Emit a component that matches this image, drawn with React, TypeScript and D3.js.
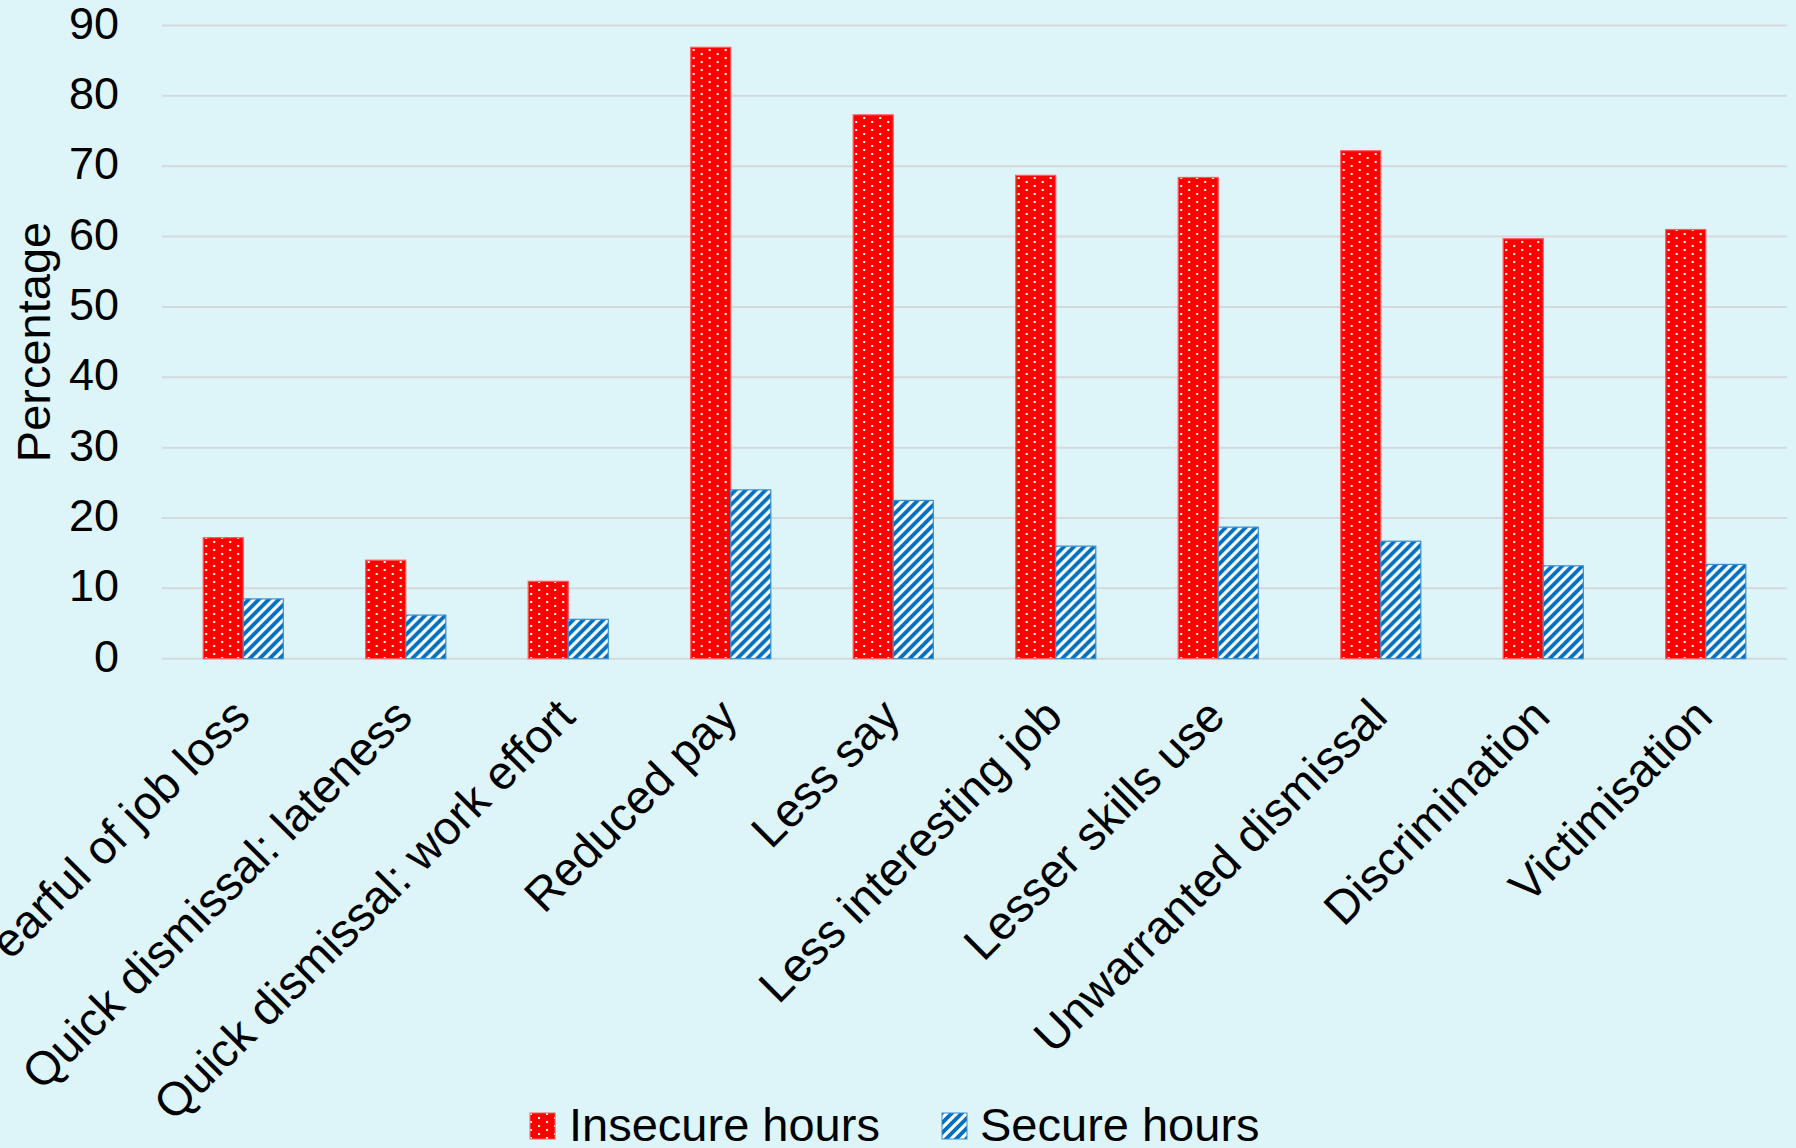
import React from "react";
import * as d3 from "d3";

// Survey categories and the share (%) of workers on each hours type
const categories = [
  "Fearful of job loss",
  "Quick dismissal: lateness",
  "Quick dismissal: work effort",
  "Reduced pay",
  "Less say",
  "Less interesting job",
  "Lesser skills use",
  "Unwarranted dismissal",
  "Discrimination",
  "Victimisation",
];
const insecureHours = [17.2, 14.0, 11.0, 86.9, 77.3, 68.7, 68.4, 72.2, 59.7, 61.0];
const secureHours = [8.5, 6.2, 5.6, 24.0, 22.5, 16.0, 18.7, 16.7, 13.2, 13.4];
const seriesNames = ["Insecure hours", "Secure hours"];
const yTicks = [0, 10, 20, 30, 40, 50, 60, 70, 80, 90];
const yTitle = "Percentage";

const W = 1796;
const H = 1148;
const FONT = "'Liberation Sans', Arial, Helvetica, sans-serif";
const BG = "#ddf4f9";
const RED = "#ff0000";
const BLUE = "#0070c0";

export default function App() {
  const plotLeft = 162;
  const plotRight = 1787;
  const plotTop = 25.5;
  const plotBottom = 658.7;

  const y = d3.scaleLinear().domain([0, 90]).range([plotBottom, plotTop]);
  const x0 = d3
    .scaleBand<string>()
    .domain(categories)
    .range([plotLeft, plotRight])
    .paddingInner(0.507)
    .paddingOuter(0.2535);
  const x1 = d3.scaleBand<string>().domain(seriesNames).range([0, x0.bandwidth()]);

  const rows = categories.map((c, i) => ({
    category: c,
    values: [
      { series: seriesNames[0], value: insecureHours[i] },
      { series: seriesNames[1], value: secureHours[i] },
    ],
  }));

  const fillFor = (s: string) => (s === seriesNames[0] ? "url(#dotsRed)" : "url(#hatchBlue)");
  const strokeFor = (s: string) => (s === seriesNames[0] ? "#ff5a5a" : "#3a8fd0");

  return (
    <svg
      width={W}
      height={H}
      viewBox={`0 0 ${W} ${H}`}
      style={{ position: "absolute", left: 0, top: 0, display: "block" }}
      fontFamily={FONT}
    >
      <defs>
        <pattern id="dotsRed" patternUnits="userSpaceOnUse" width={16} height={8}>
          <rect width={16} height={8} fill={RED} />
          <rect x={2} y={1} width={2} height={2} fill="#ffffff" />
          <rect x={10} y={5} width={2} height={2} fill="#ffffff" />
        </pattern>
        <pattern id="hatchBlue" patternUnits="userSpaceOnUse" width={10} height={10}>
          <rect width={10} height={10} fill={BLUE} />
          <path
            d="M-5,5 L5,-5 M0,10 L10,0 M5,15 L15,5"
            stroke="#ffffff"
            strokeWidth={3.2}
          />
        </pattern>
      </defs>

      <rect width={W} height={H} fill={BG} />

      {/* gridlines */}
      {yTicks.map((t) => (
        <line
          key={`g${t}`}
          x1={plotLeft}
          x2={plotRight}
          y1={y(t)}
          y2={y(t)}
          stroke="#d6d9db"
          strokeWidth={2}
        />
      ))}

      {/* y tick labels */}
      {yTicks.map((t) => (
        <text
          key={`t${t}`}
          x={119}
          y={y(t) + 13}
          textAnchor="end"
          fontSize={45}
          fill="#000"
        >
          {t}
        </text>
      ))}

      {/* y axis title */}
      <text
        transform={`translate(50,342) rotate(-90)`}
        textAnchor="middle"
        fontSize={47}
        fill="#000"
      >
        {yTitle}
      </text>

      {/* bars */}
      {rows.map((r) => (
        <g key={r.category} transform={`translate(${x0(r.category)},0)`}>
          {r.values.map((v) => (
            <rect
              key={v.series}
              x={x1(v.series)}
              y={y(v.value)}
              width={x1.bandwidth()}
              height={y(0) - y(v.value)}
              fill={fillFor(v.series)}
              stroke={strokeFor(v.series)}
              strokeWidth={1.2}
            />
          ))}
        </g>
      ))}

      {/* category labels */}
      {categories.map((c) => {
        const cx = (x0(c) as number) + x0.bandwidth() / 2;
        return (
          <text
            key={`l${c}`}
            transform={`translate(${cx + 9},719) rotate(-45)`}
            textAnchor="end"
            fontSize={47}
            fill="#000"
          >
            {c}
          </text>
        );
      })}

      {/* legend */}
      <g>
        <rect x={530} y={1113} width={25} height={26} fill="url(#dotsRed)" stroke="#ff5a5a" strokeWidth={1} />
        <text x={569} y={1141} fontSize={47} fill="#000">
          {seriesNames[0]}
        </text>
        <rect x={942} y={1113} width={25} height={26} fill="url(#hatchBlue)" stroke="#3a8fd0" strokeWidth={1} />
        <text x={980} y={1141} fontSize={47} fill="#000">
          {seriesNames[1]}
        </text>
      </g>
    </svg>
  );
}
